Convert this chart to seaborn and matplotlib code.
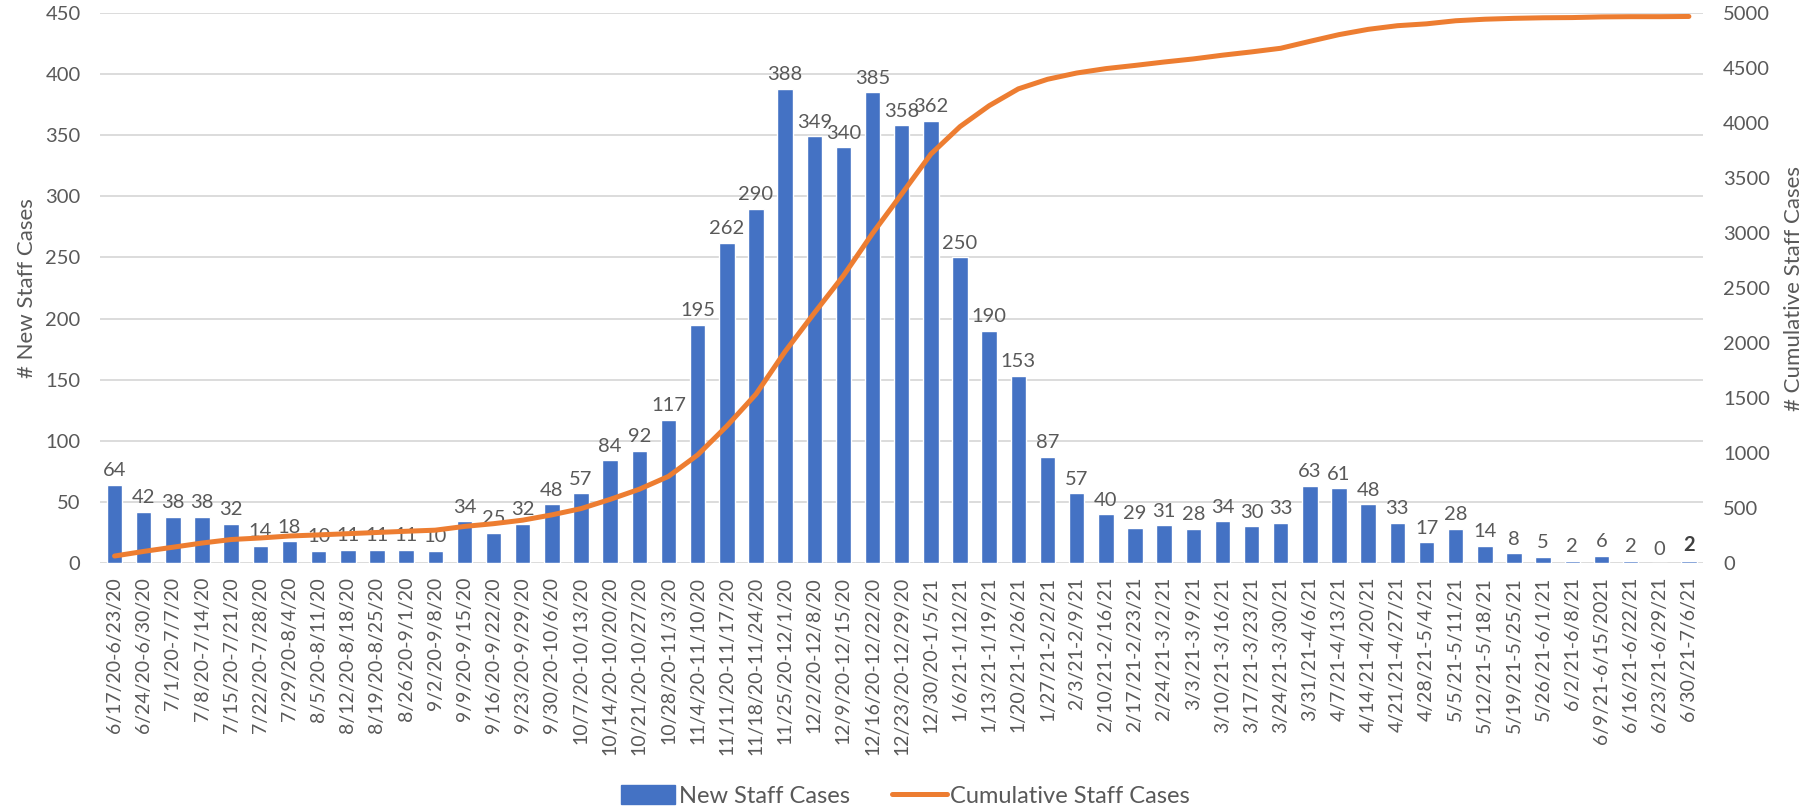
import numpy as np
import pandas as pd
import matplotlib
matplotlib.use('Agg')
import matplotlib.pyplot as plt
import seaborn as sns
from matplotlib.patches import Patch
from matplotlib.lines import Line2D

# weekly periods
weeks = [
    '6/17/20-6/23/20', '6/24/20-6/30/20', '7/1/20-7/7/20', '7/8/20-7/14/20',
    '7/15/20-7/21/20', '7/22/20-7/28/20', '7/29/20-8/4/20', '8/5/20-8/11/20',
    '8/12/20-8/18/20', '8/19/20-8/25/20', '8/26/20-9/1/20', '9/2/20-9/8/20',
    '9/9/20-9/15/20', '9/16/20-9/22/20', '9/23/20-9/29/20', '9/30/20-10/6/20',
    '10/7/20-10/13/20', '10/14/20-10/20/20', '10/21/20-10/27/20', '10/28/20-11/3/20',
    '11/4/20-11/10/20', '11/11/20-11/17/20', '11/18/20-11/24/20', '11/25/20-12/1/20',
    '12/2/20-12/8/20', '12/9/20-12/15/20', '12/16/20-12/22/20', '12/23/20-12/29/20',
    '12/30/20-1/5/21', '1/6/21-1/12/21', '1/13/21-1/19/21', '1/20/21-1/26/21',
    '1/27/21-2/2/21', '2/3/21-2/9/21', '2/10/21-2/16/21', '2/17/21-2/23/21',
    '2/24/21-3/2/21', '3/3/21-3/9/21', '3/10/21-3/16/21', '3/17/21-3/23/21',
    '3/24/21-3/30/21', '3/31/21-4/6/21', '4/7/21-4/13/21', '4/14/21-4/20/21',
    '4/21/21-4/27/21', '4/28/21-5/4/21', '5/5/21-5/11/21', '5/12/21-5/18/21',
    '5/19/21-5/25/21', '5/26/21-6/1/21', '6/2/21-6/8/21', '6/9/21-6/15/2021',
    '6/16/21-6/22/21', '6/23/21-6/29/21', '6/30/21-7/6/21',
]

new_cases = [
    64, 42, 38, 38, 32, 14, 18, 10, 11, 11, 11, 10, 34, 25, 32, 48, 57, 84, 92, 117,
    195, 262, 290, 388, 349, 340, 385, 358, 362, 250, 190, 153, 87, 57, 40, 29, 31, 28,
    34, 30, 33, 63, 61, 48, 33, 17, 28, 14, 8, 5, 2, 6, 2, 0, 2,
]

cumulative = [
    64, 106, 144, 182, 214, 228, 246, 256, 267, 278, 289, 299, 333, 358, 390, 438,
    495, 579, 671, 788, 983, 1245, 1535, 1923, 2272, 2612, 2997, 3355, 3717, 3967,
    4157, 4310, 4397, 4454, 4494, 4523, 4554, 4582, 4616, 4646, 4679, 4742, 4803,
    4851, 4884, 4901, 4929, 4943, 4951, 4956, 4958, 4964, 4966, 4966, 4968,
]

BLUE = '#4472C4'
ORANGE = '#ED7D31'
GREY = '#595959'

sns.set_style('white')
plt.rcParams['font.family'] = ['Lato', 'DejaVu Sans']

df = pd.DataFrame({'week': weeks, 'new': new_cases, 'cum': cumulative})

fig = plt.figure(figsize=(18.18, 8.09), dpi=100)
ax = fig.add_axes([0.055, 0.304, 0.882, 0.680])

sns.barplot(data=df, x='week', y='new', color=BLUE, saturation=1, width=0.53, ax=ax)
labels = ax.bar_label(ax.containers[0], padding=4, fontsize=14.5, color=GREY)
labels[-1].set_fontweight('bold')
labels[-1].set_color('#404040')

ax.set_ylim(0, 450)
ax.set_yticks(range(0, 451, 50))
ax.set_xlim(-0.5, len(weeks) - 0.5)
ax.yaxis.grid(True, color='#D9D9D9', linewidth=1.3)
ax.set_axisbelow(True)
ax.set_xlabel('')
ax.set_ylabel('# New Staff Cases', fontsize=16, color=GREY, labelpad=6)
ax.tick_params(axis='x', labelrotation=90, labelsize=14, labelcolor=GREY, length=0, pad=10)
ax.tick_params(axis='y', labelsize=14.5, labelcolor=GREY, length=0, pad=14)
for s in ax.spines.values():
    s.set_visible(False)

ax2 = ax.twinx()
sns.lineplot(x=df.index, y=df['cum'], color=ORANGE, linewidth=3.6, ax=ax2)
ax2.set_ylim(0, 5000)
ax2.set_yticks(range(0, 5001, 500))
ax2.set_ylabel('# Cumulative Staff Cases', fontsize=16, color=GREY, labelpad=10)
ax2.tick_params(axis='y', labelsize=14.5, labelcolor=GREY, length=0, pad=14)
ax2.grid(False)
for s in ax2.spines.values():
    s.set_visible(False)
ax.set_xlim(-0.5, len(weeks) - 0.5)

handles = [Patch(facecolor=BLUE, edgecolor=BLUE),
           Line2D([0], [0], color=ORANGE, linewidth=3.6)]
fig.legend(handles, ['New Staff Cases', 'Cumulative Staff Cases'],
           loc='center', bbox_to_anchor=(0.498, 0.016), ncol=2, frameon=False,
           fontsize=17, labelcolor=GREY, handlelength=2.3, handleheight=0.85,
           handletextpad=0.15, columnspacing=1.8, borderpad=0)

fig.savefig('out.png', dpi=100)
